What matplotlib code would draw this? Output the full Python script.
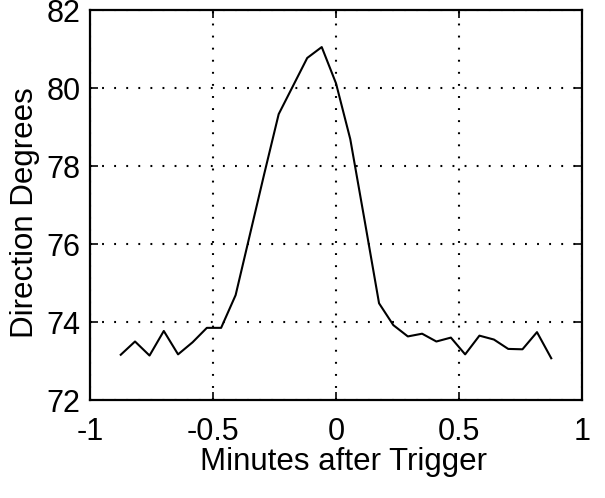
import matplotlib
matplotlib.use("Agg")
import matplotlib.pyplot as plt

# Data (time in minutes, direction in degrees)
minutes = [-0.875, -0.817, -0.758, -0.700, -0.642, -0.583, -0.525, -0.467,
           -0.408, -0.350, -0.292, -0.233, -0.175, -0.117, -0.058, 0.000,
           0.058, 0.117, 0.175, 0.233, 0.292, 0.350, 0.408, 0.467,
           0.525, 0.583, 0.642, 0.700, 0.758, 0.817, 0.875]
direction = [73.16, 73.50, 73.14, 73.77, 73.17, 73.48, 73.85, 73.85,
             74.69, 76.24, 77.79, 79.33, 80.05, 80.77, 81.05, 80.12,
             78.69, 76.58, 74.48, 73.92, 73.63, 73.70, 73.50, 73.60,
             73.17, 73.65, 73.55, 73.31, 73.30, 73.74, 73.07]

x_ticks = [-1, -0.5, 0, 0.5, 1]
x_tick_labels = ["-1", "-0.5", "0", "0.5", "1"]
y_ticks = [72, 74, 76, 78, 80, 82]
y_tick_labels = ["72", "74", "76", "78", "80", "82"]
x_label = "Minutes after Trigger"
y_label = "Direction Degrees"

plt.rcParams['font.family'] = ['Liberation Sans', 'DejaVu Sans']

fig = plt.figure(figsize=(6.05, 4.98), dpi=100)
W, H = 605, 498
left, right, top, bottom = 90, 582, 10, 400
ax = fig.add_axes([left / W, 1 - bottom / H, (right - left) / W, (bottom - top) / H])

ax.plot(minutes, direction, color='black', linewidth=1.5)

ax.set_xlim(-1, 1)
ax.set_ylim(72, 82)
ax.set_xticks(x_ticks)
ax.set_xticklabels(x_tick_labels)
ax.set_yticks(y_ticks)
ax.set_yticklabels(y_tick_labels)

ax.grid(True, color='black', linestyle=(0, (0.9, 4.9)), linewidth=1.5)
for s in ax.spines.values():
    s.set_linewidth(1.6)
    s.set_color('black')

ax.tick_params(axis='both', direction='in', length=6, width=1.2,
               top=True, right=True, labelsize=22, colors='black')
ax.tick_params(axis='y', pad=7)
ax.tick_params(axis='x', pad=12)

ax.set_xlabel(x_label, fontsize=22.5)
ax.set_ylabel(y_label, fontsize=22.5)
ax.xaxis.set_label_coords(0.515, -0.12)
ax.yaxis.set_label_coords(-0.102, 0.48)

fig.savefig("out.png", dpi=100)
